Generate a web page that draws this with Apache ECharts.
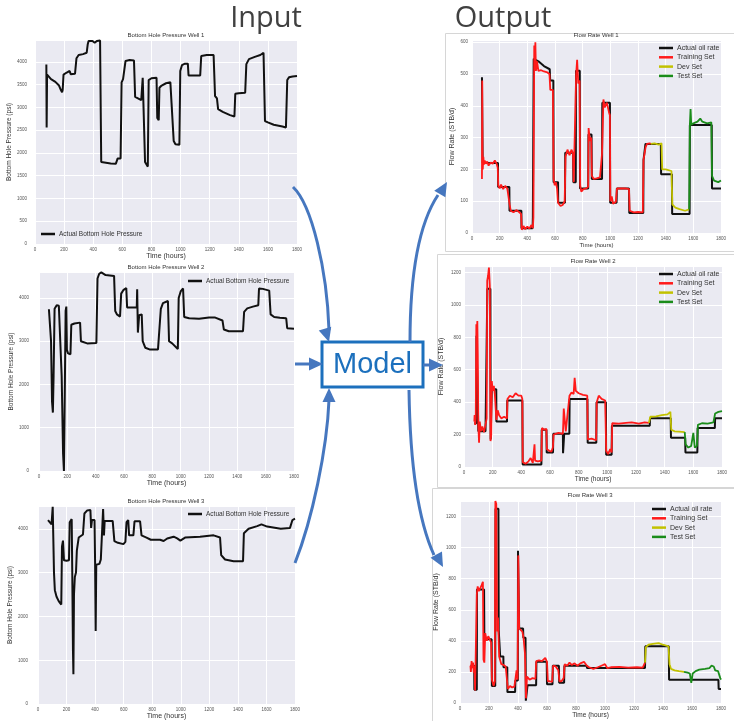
<!DOCTYPE html>
<html><head><meta charset="utf-8">
<script src="https://cdn.jsdelivr.net/npm/echarts@6/dist/echarts.min.js"></script>
<style>html,body{margin:0;padding:0;background:#fff}#c{width:734px;height:721px}</style>
</head><body><div id="c"></div>
<script>
// ---------- DATA ----------
const timeTicks = [0,200,400,600,800,1000,1200,1400,1600,1800];
const inputTitles = ['Bottom Hole Pressure Well 1','Bottom Hole Pressure Well 2','Bottom Hole Pressure Well 3'];
const outputTitles = ['Flow Rate Well 1','Flow Rate Well 2','Flow Rate Well 3'];

const well1Pressure = [[78,3940],[80,2560],[83,3720],[90,3680],[110,3620],[140,3560],[165,3480],[178,3380],[186,3330],[190,3380],[196,3720],[215,3760],[225,3780],[238,3800],[245,3730],[275,3740],[285,4080],[300,4150],[330,4170],[355,4200],[362,4380],[368,4460],[395,4460],[410,4420],[425,4460],[447,4470],[455,1800],[465,1760],[520,1770],[555,1760],[563,1730],[568,1880],[588,1880],[595,3550],[605,3620],[615,3660],[622,4020],[650,4040],[680,4030],[688,3230],[700,3200],[730,3160],[737,3150],[740,3650],[752,3640],[756,1800],[765,1750],[775,1700],[781,3600],[800,3640],[835,3650],[840,2770],[850,2720],[855,3430],[870,3480],[900,3530],[930,3550],[938,3100],[946,3060],[953,2260],[965,2190],[992,2180],[998,3800],[1010,3930],[1030,3960],[1050,3960],[1055,3700],[1135,3700],[1142,4130],[1180,4150],[1227,4150],[1237,3250],[1250,3200],[1258,2960],[1290,2900],[1340,2830],[1370,2800],[1376,3300],[1400,3310],[1444,3320],[1452,3950],[1470,4060],[1510,4110],[1548,4150],[1570,4200],[1580,2700],[1600,2670],[1640,2620],[1700,2580],[1724,2560],[1733,3600],[1745,3660],[1770,3680],[1800,3690]];
const well2Pressure = [[70,3740],[80,3720],[85,3000],[92,1600],[98,1350],[103,2200],[110,3750],[125,3830],[140,3820],[148,3780],[160,2200],[170,400],[176,0],[182,1800],[188,3700],[193,3800],[197,2800],[205,2720],[222,2700],[228,3380],[250,3410],[290,3430],[296,3000],[310,2960],[340,2950],[405,2960],[413,4450],[425,4560],[440,4590],[470,4530],[530,4510],[538,3700],[550,3620],[572,3570],[580,4100],[595,4180],[616,4230],[622,3780],[660,3780],[690,3780],[693,4200],[698,3200],[702,3180],[707,3600],[725,3620],[732,3000],[750,2850],[780,2810],[840,2810],[852,2800],[860,3750],[875,3880],[910,3930],[918,3000],[940,2950],[980,2820],[986,4000],[1000,4150],[1017,4220],[1025,3560],[1060,3530],[1130,3520],[1200,3550],[1240,3550],[1295,3480],[1305,3270],[1340,3230],[1440,3230],[1448,3680],[1470,3760],[1510,3800],[1548,3830],[1553,4220],[1580,4210],[1625,4170],[1635,3620],[1660,3560],[1700,3540],[1745,3530],[1752,3300],[1800,3290]];
const well3Pressure = [[70,4200],[95,4100],[100,4100],[103,4500],[108,4500],[112,3000],[118,2600],[130,2450],[145,2350],[163,2270],[168,3600],[175,3730],[182,3280],[200,3270],[217,3280],[222,4150],[236,4220],[240,3000],[245,1200],[248,680],[252,2500],[258,2900],[266,3000],[272,3500],[285,3800],[315,3870],[325,4350],[345,4420],[367,4430],[372,4020],[378,4200],[396,4200],[400,3200],[404,1670],[408,3180],[430,3200],[440,3300],[452,3260],[456,4450],[462,3850],[467,4180],[500,4180],[523,4180],[535,3720],[560,3680],[598,3650],[612,3700],[620,4150],[632,4200],[638,3850],[668,3850],[676,4170],[715,4170],[725,3850],[760,3800],[790,3750],[855,3750],[880,3720],[905,3780],[950,3820],[975,3780],[997,3730],[1030,3800],[1135,3820],[1230,3850],[1275,3800],[1283,3400],[1310,3300],[1370,3260],[1436,3260],[1442,3900],[1475,4000],[1535,4060],[1565,4100],[1605,4050],[1700,4000],[1765,4020],[1782,4200],[1800,4230]];

const well1Actual = [[72,490],[76,490],[77,220],[188,220],[189,145],[270,145],[271,70],[357,70],[358,15],[438,15],[440,50],[445,50],[446,548],[480,540],[520,525],[562,515],[565,480],[588,480],[590,160],[622,160],[623,95],[672,95],[674,252],[731,252],[733,160],[750,160],[752,510],[779,510],[781,140],[840,140],[842,310],[864,310],[866,170],[940,170],[942,410],[997,410],[999,95],[1045,95],[1047,140],[1135,140],[1137,63],[1238,63],[1240,230],[1252,230],[1254,280],[1365,280],[1367,185],[1445,185],[1447,60],[1573,60],[1575,340],[1733,340],[1735,140],[1800,140]];
const well1Train = [[72,170],[74,480],[76,260],[78,200],[82,240],[86,215],[92,228],[100,218],[110,225],[120,212],[135,222],[150,218],[165,228],[178,218],[186,205],[190,150],[200,140],[210,152],[225,138],[240,148],[255,140],[268,142],[272,90],[280,70],[300,65],[320,72],[340,66],[355,60],[360,10],[372,22],[385,12],[400,20],[415,14],[430,25],[440,15],[444,50],[450,590],[454,520],[458,600],[462,510],[470,540],[480,510],[500,512],[520,508],[545,505],[560,500],[566,450],[585,450],[590,170],[598,150],[606,160],[615,140],[622,95],[640,85],[655,88],[670,100],[676,240],[690,262],[705,245],[720,262],[730,250],[735,160],[748,165],[753,500],[760,545],[768,470],[778,480],[782,150],[790,130],[805,138],[825,140],[840,145],[843,330],[852,290],[862,300],[866,180],[880,170],[900,172],[925,175],[940,250],[950,420],[960,395],[975,410],[990,380],[997,370],[1000,100],[1010,115],[1020,92],[1040,98],[1048,140],[1080,140],[1110,140],[1135,138],[1140,70],[1170,65],[1200,66],[1235,65],[1240,230],[1255,270],[1265,280],[1285,282],[1292,280]];
const well1Dev = [[1292,280],[1320,282],[1350,278],[1370,282],[1375,200],[1400,200],[1420,198],[1442,195],[1448,90],[1470,80],[1500,75],[1540,70],[1570,74]];
const well1Test = [[1570,74],[1575,340],[1580,390],[1585,340],[1600,345],[1630,350],[1650,360],[1665,350],[1700,345],[1730,348],[1735,180],[1750,165],[1780,160],[1800,165]];

const well2Actual = [[72,270],[86,270],[87,810],[98,810],[100,220],[150,220],[151,280],[162,280],[163,1100],[184,1100],[186,170],[193,170],[194,480],[225,480],[226,280],[300,280],[302,410],[407,410],[409,15],[540,15],[542,230],[575,230],[577,90],[621,90],[623,205],[690,205],[691,85],[698,85],[699,205],[735,205],[737,420],[861,420],[863,150],[923,150],[925,400],[990,400],[992,75],[1030,75],[1032,255],[1296,255],[1298,300],[1442,300],[1444,180],[1543,180],[1545,90],[1628,90],[1630,240],[1750,240],[1752,300],[1800,300]];
const well2Train = [[72,280],[74,320],[78,260],[82,300],[86,880],[90,840],[93,900],[96,700],[100,260],[105,150],[110,280],[118,220],[128,250],[140,215],[150,260],[158,300],[162,1150],[168,1180],[174,1230],[180,1120],[185,160],[190,200],[194,530],[200,470],[208,500],[215,450],[222,460],[226,290],[235,350],[245,320],[260,300],[280,310],[300,300],[303,420],[320,440],[340,430],[360,455],[380,440],[400,440],[407,420],[410,30],[430,20],[450,35],[465,55],[480,25],[492,140],[496,40],[515,35],[540,40],[544,240],[560,230],[575,235],[578,110],[595,100],[610,95],[620,120],[625,200],[660,210],[690,205],[696,360],[702,300],[710,220],[736,440],[750,460],[765,450],[772,550],[780,470],[800,455],[830,445],[860,440],[864,170],[890,175],[922,165],[926,400],[940,440],[960,420],[985,410],[992,100],[1005,80],[1020,110],[1030,90],[1034,270],[1080,268],[1130,272],[1170,275],[1220,268],[1260,275],[1290,272]];
const well2Dev = [[1290,272],[1300,310],[1340,312],[1380,320],[1420,325],[1440,340],[1446,230],[1470,220],[1500,218],[1540,215]];
const well2Test = [[1540,215],[1546,140],[1565,120],[1585,130],[1600,210],[1610,120],[1625,130],[1632,260],[1660,270],[1700,268],[1740,275],[1752,330],[1775,340],[1800,345]];

const well3Actual = [[72,240],[98,240],[99,85],[116,85],[117,730],[166,730],[168,410],[218,410],[220,110],[243,110],[245,1250],[265,1250],[267,470],[276,470],[277,300],[299,300],[300,230],[326,230],[327,70],[380,70],[382,145],[399,145],[400,980],[407,980],[408,480],[435,480],[437,420],[452,420],[454,15],[464,15],[466,115],[525,115],[527,265],[598,265],[600,120],[638,120],[640,240],[682,240],[684,130],[718,130],[720,240],[874,240],[876,225],[1276,225],[1278,365],[1440,365],[1442,150],[1782,150],[1784,90],[1800,90]];
const well3Train = [[72,240],[75,200],[80,270],[85,225],[90,260],[95,195],[100,240],[104,80],[112,90],[116,700],[122,750],[130,720],[140,740],[150,760],[158,780],[162,280],[168,260],[174,450],[185,400],[195,430],[205,410],[215,390],[220,150],[232,110],[240,140],[244,1300],[250,1280],[256,460],[262,550],[270,300],[285,250],[300,245],[315,235],[325,230],[330,90],[345,110],[360,100],[375,105],[383,160],[390,210],[397,150],[402,950],[408,480],[420,470],[430,460],[438,420],[448,320],[455,30],[462,170],[480,150],[500,160],[520,155],[526,270],[545,275],[565,270],[588,290],[600,265],[606,140],[620,140],[635,135],[642,240],[660,235],[678,210],[686,140],[700,140],[715,160],[722,250],[740,240],[755,260],[770,245],[790,255],[810,240],[830,255],[855,265],[875,240],[890,230],[920,220],[950,230],[975,240],[1000,250],[1015,225],[1040,230],[1100,232],[1160,228],[1220,230],[1260,228],[1276,260]];
const well3Dev = [[1276,260],[1282,360],[1300,375],[1330,380],[1370,385],[1400,375],[1438,365],[1445,250],[1455,220],[1480,210],[1510,205],[1545,200]];
const well3Test = [[1545,200],[1570,195],[1585,190],[1595,130],[1605,190],[1625,205],[1650,215],[1690,220],[1720,225],[1735,240],[1750,235],[1760,210],[1780,205],[1795,160],[1800,150]];

const pressureMax = [4480, 4600, 4520];
const pressureStep = [500, 1000, 1000];
const rateMax = [607, 1240, 1300];
const rateStep = [100, 200, 200];

// ---------- LAYOUT ----------
const FONT = '"Liberation Sans", Arial, sans-serif';
const grids = [
  {left:35, top:40, width:262, height:204},
  {left:39, top:272, width:255, height:199},
  {left:38, top:506, width:257, height:200},
  {left:472, top:40, width:249, height:193},
  {left:464, top:266, width:258, height:201},
  {left:460, top:501, width:261, height:202}
];
const yNameGap = [19, 20, 21, 16, 19, 20];
const yLabelMargin = [8, 10, 10, 4, 3, 4];
const xNameSize = [7, 7, 7, 6, 6.5, 6.5];
const plain = v => String(v);

const chart = echarts.init(document.getElementById('c'), null, {renderer:'canvas'});

const xAxes = grids.map((g,i)=>({
  type:'value', gridIndex:i, min:0, max:1800, interval:200,
  name:'Time (hours)', nameLocation:'middle', nameGap:8,
  nameTextStyle:{fontSize:xNameSize[i], color:'#333', fontFamily:FONT, verticalAlign:'top'},
  axisLine:{show:false}, axisTick:{show:false},
  axisLabel:{fontSize:4.5, color:'#555', margin:3, fontFamily:FONT, formatter:plain},
  splitLine:{show:true, lineStyle:{color:'#ffffff', width:1}}
}));
const yAxes = grids.map((g,i)=>({
  type:'value', gridIndex:i, min:0,
  max: i<3 ? pressureMax[i] : rateMax[i-3],
  interval: i<3 ? pressureStep[i] : rateStep[i-3],
  name: i<3 ? 'Bottom Hole Pressure (psi)' : 'Flow Rate (STB/d)',
  nameLocation:'middle', nameGap:yNameGap[i],
  nameTextStyle:{fontSize: i<3 ? 6.5 : 7, color:'#333', fontFamily:FONT},
  axisLine:{show:false}, axisTick:{show:false},
  axisLabel:{fontSize:4.5, color:'#555', margin:yLabelMargin[i], showMaxLabel:false, fontFamily:FONT, formatter:plain},
  splitLine:{show:true, lineStyle:{color:'#ffffff', width:1}}
}));

function line(name, data, idx, color, width, z){
  return {type:'line', name, data, xAxisIndex:idx, yAxisIndex:idx, symbol:'none',
    color, lineStyle:{color, width}, itemStyle:{color}, z: z||2, animation:false, clip:true};
}
const series = [
  line('Actual Bottom Hole Pressure', well1Pressure, 0, '#111111', 2),
  line('Actual Bottom Hole Pressure', well2Pressure, 1, '#111111', 2),
  line('Actual Bottom Hole Pressure', well3Pressure, 2, '#111111', 2),
  line('Actual oil rate', well1Actual, 3, '#111111', 2),
  line('Training Set', well1Train, 3, '#ff1a1a', 1.8, 3),
  line('Dev Set', well1Dev, 3, '#c2c200', 1.8, 3),
  line('Test Set', well1Test, 3, '#1a8c1a', 1.8, 3),
  line('Actual oil rate', well2Actual, 4, '#111111', 2),
  line('Training Set', well2Train, 4, '#ff1a1a', 1.8, 3),
  line('Dev Set', well2Dev, 4, '#c2c200', 1.8, 3),
  line('Test Set', well2Test, 4, '#1a8c1a', 1.8, 3),
  line('Actual oil rate', well3Actual, 5, '#111111', 2),
  line('Training Set', well3Train, 5, '#ff1a1a', 1.8, 3),
  line('Dev Set', well3Dev, 5, '#c2c200', 1.8, 3),
  line('Test Set', well3Test, 5, '#1a8c1a', 1.8, 3)
];

const outNames = ['Actual oil rate','Training Set','Dev Set','Test Set'];
function legend(left, top, data, fs, lh){
  return {left, top, data, orient:'vertical', icon:'rect', itemWidth:14, itemHeight:2.5,
    itemGap:1.3, padding:0, selectedMode:false,
    textStyle:{fontSize:fs, color:'#333', fontFamily:FONT, lineHeight:lh, padding:[0,0,0,-1]}};
}
const legends = [
  legend(41, 230, ['Actual Bottom Hole Pressure'], 6.5, 8),
  legend(188, 277, ['Actual Bottom Hole Pressure'], 6.5, 8),
  legend(188, 510, ['Actual Bottom Hole Pressure'], 6.5, 8),
  legend(659, 44, outNames, 7, 8),
  legend(659, 270, outNames, 7, 8),
  legend(652, 505, outNames, 7, 8)
];

// ---------- GRAPHICS ----------
const ARROW = '#4677bf';
const BLUE = '#1c70bd';
function txt(text, x, y, size, color, extra, family){
  return Object.assign({type:'text', x, y, z:50, style:{text, fill:color, font: size+'px '+(family||FONT),
    align:'center', verticalAlign:'middle', textAlign:'center', textVerticalAlign:'middle'}}, extra||{});
}
function head(tx, ty, dx, dy){
  const L = Math.hypot(dx,dy), ux = dx/L, uy = dy/L, len = 14, hw = 6.5;
  const bx = tx - ux*len, by = ty - uy*len;
  return {type:'polygon', z:60, shape:{points:[[tx,ty],[bx - uy*hw, by + ux*hw],[bx + uy*hw, by - ux*hw]]},
    style:{fill:ARROW}};
}
function curve(x1,y1,c1x,c1y,c2x,c2y,x2,y2){
  return {type:'bezierCurve', z:60, shape:{x1,y1,cpx1:c1x,cpy1:c1y,cpx2:c2x,cpy2:c2y,x2,y2},
    style:{stroke:ARROW, lineWidth:3, fill:null}};
}
function seg(x1,y1,x2,y2){
  return {type:'line', z:60, shape:{x1,y1,x2,y2}, style:{stroke:ARROW, lineWidth:3}};
}
function panel(x,y,w,h){
  return {type:'rect', z:-5, shape:{x,y,width:w,height:h}, style:{fill:'#ffffff', stroke:'#d6d6d6', lineWidth:1}};
}
const graphics = [
  panel(445.5, 33.5, 290, 218),
  panel(437.5, 254.5, 298, 233),
  panel(432.5, 488.5, 303, 234),
  txt('Input', 266, 19, 29, '#404040', null, '"Open Sans", sans-serif'),
  txt('Output', 503, 19, 29, '#404040', null, '"Open Sans", sans-serif'),
  txt(inputTitles[0], 166, 35, 6, '#333'),
  txt(inputTitles[1], 166, 267, 6, '#333'),
  txt(inputTitles[2], 166, 501, 6, '#333'),
  txt(outputTitles[0], 596, 35.5, 6, '#333'),
  txt(outputTitles[1], 593, 261, 6, '#333'),
  txt(outputTitles[2], 590, 495, 6, '#333'),
  {type:'rect', z:55, shape:{x:322, y:342, width:101, height:45}, style:{fill:'#ffffff', stroke:BLUE, lineWidth:3}},
  txt('Model', 372.5, 365, 29, BLUE, {z:70}),
  // arrows
  curve(293,187, 312,205, 327,270, 329,330), head(329,342, 0.3,1),
  seg(295,364, 311,364), head(323,364, 1,0),
  curve(295,563, 312,520, 327,450, 329,400), head(329,388, 0,-1),
  seg(423,365, 431,365), head(443,365, 1,0),
  curve(410,342, 410,270, 420,222, 438,195), head(447,182, 0.6,-1),
  curve(409,390, 410,460, 418,520, 434,555), head(443,567, 0.55,1)
];

chart.setOption({
  backgroundColor:'#ffffff',
  animation:false,
  textStyle:{fontFamily:FONT},
  grid: grids.map(g=>Object.assign({show:true, backgroundColor:'#eaeaf2', borderWidth:0, containLabel:false}, g)),
  xAxis: xAxes, yAxis: yAxes,
  legend: legends,
  series,
  graphic: graphics
});
</script></body></html>
